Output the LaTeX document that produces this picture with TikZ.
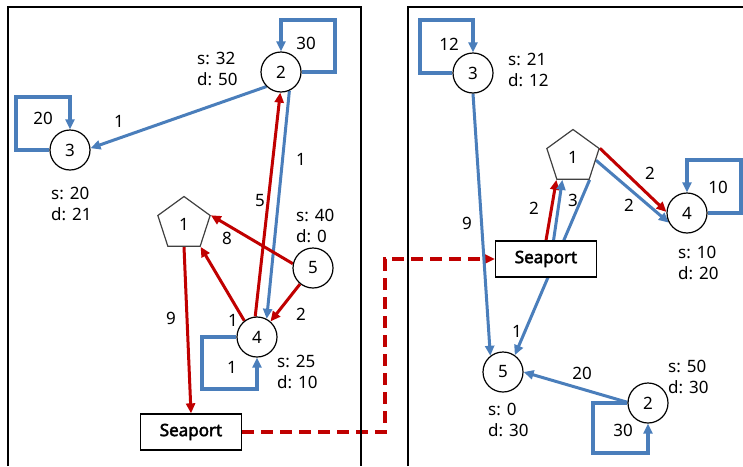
\documentclass[tikz,border=0pt]{standalone}
\usepackage{fontspec}
\setmainfont{Noto Sans}[AutoFakeBold=2.5]
\usetikzlibrary{arrows.meta,shapes.geometric}
\definecolor{flowblue}{RGB}{74,126,187}
\definecolor{flowred}{RGB}{192,0,0}
\pgfdeclarelayer{flows}
\pgfsetlayers{flows,main}

\begin{document}
\begin{tikzpicture}[x=1pt,y=-1pt,
  every node/.style={font=\fontsize{17}{21}\selectfont},
  city/.style={circle,draw=black,line width=1.2pt,minimum size=40pt,inner sep=0pt,fill=white},
  hub/.style={regular polygon,regular polygon sides=5,draw=black!75,line width=1.2pt,
              minimum size=55pt,inner sep=0pt,fill=white},
  port/.style={draw=black,line width=1.3pt,minimum width=101pt,minimum height=36pt,
               inner sep=0pt,fill=white,font=\fontsize{17}{21}\selectfont\bfseries},
  info/.style={anchor=west,align=left,inner sep=0pt},
  lbl/.style={inner sep=0pt},
  flowtip/.style={-{Triangle[length=10pt,width=9pt]}},
  blueflow/.style={draw=flowblue,line width=3pt,flowtip},
  redflow/.style={draw=flowred,line width=3pt,flowtip},
  loopflow/.style={draw=flowblue,line width=4pt,flowtip},
  portlink/.style={draw=flowred,line width=3.5pt,dash pattern=on 12pt off 7pt,flowtip},
  panel/.style={draw=black,line width=1.5pt}
]
\useasboundingbox (0,0) rectangle (743,466);

% panels
\draw[panel] (8,466) -- (8,7) -- (361,7) -- (361,466);
\draw[panel] (408,466) -- (408,7) -- (743,7);

% ---- left network ----
\node[city] (L2) at (281,72) {2};
\node[city] (L3) at (70,150) {3};
\node[hub]  (L1) at (184,224) {1};
\node[city] (L5) at (313,268) {5};
\node[city] (L4) at (257,337) {4};
\node[port] (LS) at (191,432) {Seaport};

\node[info] (L2info) at (197,68.5) {s: 32\\d: 50};
\node[info] (L3info) at (51,203.5) {s: 20\\d: 21};
\node[info] (L5info) at (296,225.5) {s: 40\\d: 0};
\node[info] (L4info) at (277,371.5) {s: 25\\d: 10};

\node[lbl] (lL2loop) at (306,43) {30};
\node[lbl] (lL3loop) at (43,118) {20};
\node[lbl] (lL4loop) at (232,367) {1};
\node[lbl] (lL23) at (119,121) {1};
\node[lbl] (lL24) at (301,159) {1};
\node[lbl] (lL42) at (260,201) {5};
\node[lbl] (lL51) at (227,238) {8};
\node[lbl] (lL41) at (233,320) {1};
\node[lbl] (lL54) at (301,314) {2};
\node[lbl] (lL1S) at (171,318) {9};

% ---- right network ----
\node[city] (R3) at (473,73) {3};
\node[hub]  (R1) at (573,157) {1};
\node[city] (R4) at (687,213) {4};
\node[port] (RS) at (546,259) {Seaport};
\node[city] (R5) at (503,372) {5};
\node[city] (R2) at (648,403) {2};

\node[info] (R3info) at (508,69.5) {s: 21\\d: 12};
\node[info] (R4info) at (678,262.5) {s: 10\\d: 20};
\node[info] (R5info) at (488,419.5) {s: 0\\d: 30};
\node[info] (R2info) at (668,377) {s: 50\\d: 30};

\node[lbl] (lR3loop) at (449,44) {12};
\node[lbl] (lR4loop) at (718,187) {10};
\node[lbl] (lR2loop) at (623,430) {30};
\node[lbl] (lR35) at (467,223) {9};
\node[lbl] (lRS1r) at (534,208) {2};
\node[lbl] (lRS1b) at (573,200) {3};
\node[lbl] (lR14r) at (650,173) {2};
\node[lbl] (lR14b) at (629,205) {2};
\node[lbl] (lR15) at (517,331) {1};
\node[lbl] (lR25) at (582,373) {20};

\coordinate (turn) at (385,432);

\begin{pgfonlayer}{flows}
  % left flows
  \draw[blueflow] (L2.225) -- (L3.5);
  \draw[redflow]  (L4.95) -- (L2.268);
  \draw[blueflow] (L2.294) -- (L4.62);
  \draw[redflow]  (L5.168) -- (L1.corner 5);
  \draw[redflow]  (L4.128) -- (L1.corner 4);
  \draw[redflow]  (L5.231) -- (L4.49);
  \draw[redflow]  (L1.south) -- (LS.north);
  % left self loops
  \draw[loopflow] (L2.east) -- ++(33,0) -- ++(0,-52) -| (L2.north);
  \draw[loopflow] (L3.west) -- ++(-33,0) -- ++(0,-53) -| (L3.north);
  \draw[loopflow] (L4.west) -- ++(-34,0) -- ++(0,52) -| (L4.south);
  % link between the two seaports
  \draw[portlink] (LS.east) -- (turn) |- (RS.west);
  % right flows
  \draw[blueflow] (R3.270) -- (R5.128);
  \draw[blueflow] (R1.corner 4) -- (R5.55);
  \draw[redflow]  (RS.north) -- (R1.corner 3);
  \draw[blueflow] (RS.68) -- (R1.245);
  \draw[redflow]  (R1.corner 5) -- (R4.177);
  \draw[blueflow] (R1.352) -- (R4.208);
  \draw[blueflow] (R2.178) -- (R5.0);
  % right self loops
  \draw[loopflow] (R3.west) -- ++(-32,0) -- ++(0,-53) -| (R3.north);
  \draw[loopflow] (R4.east) -- ++(33,0) -- ++(0,-53) -| (R4.north);
  \draw[loopflow] (R2.west) -- ++(-34,0) -- ++(0,50) -| (R2.south);
\end{pgfonlayer}
\end{tikzpicture}
\end{document}
